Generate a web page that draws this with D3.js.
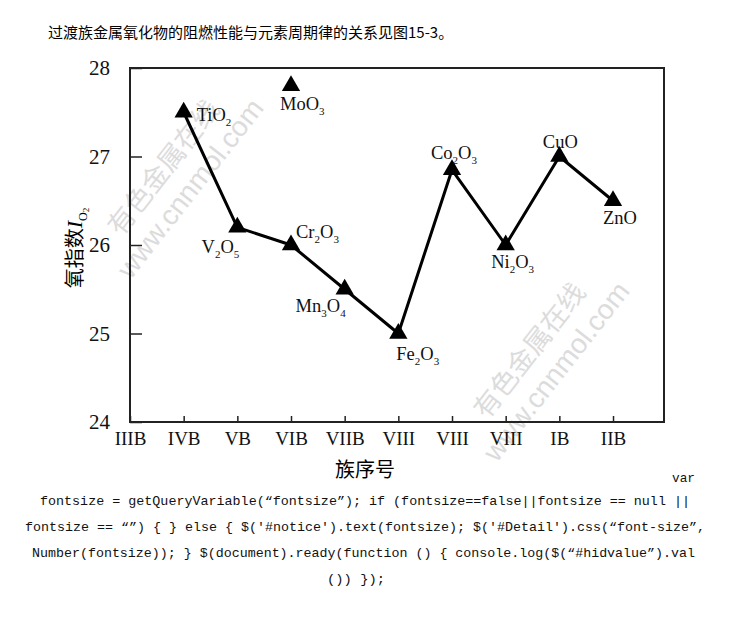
<!DOCTYPE html>
<html>
<head>
<meta charset="utf-8">
<script src="https://cdn.jsdelivr.net/npm/d3@7"></script>
<style>
  body { margin: 0; background: #fff; }
  svg { display: block; }
</style>
</head>
<body>
<svg width="730" height="628"></svg>
<script>
// group labels on the x axis (IIIB..IIB)
var groups = ["IIIB", "IVB", "VB", "VIB", "VIIB", "VIII", "VIII", "VIII", "IB", "IIB"];
var yTicks = [24, 25, 26, 27, 28];

// oxides on the connected line
var oxides = ["TiO2", "V2O5", "Cr2O3", "Mn3O4", "Fe2O3", "Co2O3", "Ni2O3", "CuO", "ZnO"];
var oxideGroup = [1, 2, 3, 4, 5, 6, 7, 8, 9];
var oxygenIndex = [27.5, 26.2, 26.0, 25.5, 25.0, 26.85, 26.0, 27.0, 26.5];

// the lone point
var loneOxide = ["MoO3"];
var loneGroup = [3];
var loneValue = [27.8];

// label placement relative to each point: [dx, dy, anchor]
var labelPos = [
  [13, 9, "start"], [2, 26, "end"], [5, -7, "start"], [1, 23, "end"],
  [-2, 26, "start"], [2, -11, "middle"], [7, 23, "middle"], [1, -9, "middle"], [7, 23, "middle"]
];
var lonePos = [[-11, 24, "start"]];

(function() {
var svg = d3.select("svg");
var serif = "'Liberation Serif', 'Times New Roman', serif";
var cjk = "'Noto Sans CJK SC', sans-serif";

var mLeft = 130, mRight = 664, mTop = 68, mBottom = 422;

var x = d3.scaleLinear().domain([0, 9.95]).range([mLeft, mRight]);
var y = d3.scaleLinear().domain([24, 28]).range([mBottom, mTop]);

// heading line
svg.append("text")
  .attr("x", 48).attr("y", 38)
  .style("font-family", cjk).style("font-size", "15px")
  .text("过渡族金属氧化物的阻燃性能与元素周期律的关系见图15-3。");

// watermarks
function watermark(cx, cy) {
  var g = svg.append("g")
    .attr("transform", "translate(" + cx + "," + cy + ") rotate(-52)")
    .style("fill", "#dcdcdc").style("font-family", cjk);
  g.append("text").attr("x", 0).attr("y", -14).attr("text-anchor", "middle")
    .style("font-size", "27px").text("有色金属在线");
  g.append("text").attr("x", 0).attr("y", 20).attr("text-anchor", "middle")
    .style("font-family", "'Liberation Sans', sans-serif")
    .style("font-size", "28px").text("www.cnnmol.com");
}
watermark(182, 182);
watermark(548, 365);

// frame
svg.append("rect")
  .attr("x", mLeft).attr("y", mTop)
  .attr("width", mRight - mLeft).attr("height", mBottom - mTop)
  .attr("fill", "none").attr("stroke", "#222").attr("stroke-width", 2);

// y axis, ticks inward
var yAxis = d3.axisLeft(y).tickValues(yTicks).tickSize(-12).tickPadding(20).tickFormat(d3.format("d"));
var gy = svg.append("g").attr("transform", "translate(" + mLeft + ",0)").call(yAxis);
gy.select(".domain").remove();
gy.selectAll("line").attr("stroke", "#222").attr("stroke-width", 1.5);
gy.selectAll("text").style("font-family", serif).style("font-size", "21px").attr("fill", "#111");

// x axis, ticks inward
var xAxis = d3.axisBottom(x).tickValues(d3.range(groups.length)).tickSize(-6).tickPadding(10)
  .tickFormat(function(d) { return groups[d]; });
var gx = svg.append("g").attr("transform", "translate(0," + mBottom + ")").call(xAxis);
gx.select(".domain").remove();
gx.selectAll("line").attr("stroke", "#222").attr("stroke-width", 1.5);
gx.selectAll("text").style("font-family", serif).style("font-size", "19px").attr("fill", "#111");

// axis titles
svg.append("text")
  .attr("x", 365).attr("y", 477).attr("text-anchor", "middle")
  .style("font-family", cjk).style("font-size", "20px")
  .text("族序号");

var yt = svg.append("text")
  .attr("transform", "translate(82,248) rotate(-90)")
  .attr("text-anchor", "middle")
  .style("font-family", cjk).style("font-size", "20px");
yt.append("tspan").text("氧指数");
yt.append("tspan").style("font-family", serif).style("font-style", "italic").style("font-size", "22px").text("I");
yt.append("tspan").style("font-family", serif).style("font-size", "12px").attr("dy", 5).text("O");
yt.append("tspan").style("font-family", serif).style("font-size", "9px").attr("dy", 2).text("2");

// connected line
var pts = oxides.map(function(d, i) { return [oxideGroup[i], oxygenIndex[i]]; });
var line = d3.line().x(function(d) { return x(d[0]); }).y(function(d) { return y(d[1]); });
svg.append("path")
  .datum(pts)
  .attr("d", line)
  .attr("fill", "none").attr("stroke", "#000").attr("stroke-width", 3)
  .attr("stroke-linejoin", "round");

var tri = d3.symbol().type(d3.symbolTriangle).size(145);

function drawPoint(name, g, v, pos) {
  var px = x(g), py = y(v);
  svg.append("path").attr("d", tri).attr("transform", "translate(" + px + "," + py + ")").attr("fill", "#000");
  var t = svg.append("text")
    .attr("x", px + pos[0]).attr("y", py + pos[1])
    .attr("text-anchor", pos[2])
    .style("font-family", serif).style("font-size", "18.5px").attr("fill", "#111");
  // digits as subscripts
  var parts = name.match(/[A-Za-z]+|\d+/g);
  var sub = false;
  parts.forEach(function(p) {
    var isNum = /\d/.test(p);
    var s = t.append("tspan").text(p);
    if (isNum) { s.style("font-size", "11px").attr("dy", 5); sub = true; }
    else if (sub) { s.attr("dy", -5); sub = false; }
  });
}

oxides.forEach(function(d, i) { drawPoint(d, oxideGroup[i], oxygenIndex[i], labelPos[i]); });
loneOxide.forEach(function(d, i) { drawPoint(d, loneGroup[i], loneValue[i], lonePos[i]); });

// page script text leaking below the figure
var codeFont = "'Liberation Mono', 'DejaVu Sans Mono', monospace";
var codeLines = [
  ["var", 672, 482, 23],
  ["fontsize = getQueryVariable(\u201Cfontsize\u201D); if (fontsize==false||fontsize == null ||", 40, 505, 650],
  ["fontsize == \u201C\u201D) { } else { $('#notice').text(fontsize); $('#Detail').css(\u201Cfont-size\u201D,", 25, 531, 680],
  ["Number(fontsize)); } $(document).ready(function () { console.log($(\u201C#hidvalue\u201D).val", 32, 557, 663],
  ["()) });", 327, 583, 58]
];
svg.selectAll("text.code")
  .data(codeLines)
  .enter()
  .append("text")
  .attr("class", "code")
  .attr("x", function(d) { return d[1]; })
  .attr("y", function(d) { return d[2]; })
  .attr("textLength", function(d) { return d[3]; })
  .attr("lengthAdjust", "spacingAndGlyphs")
  .style("font-family", codeFont).style("font-size", "13.5px").attr("fill", "#111")
  .text(function(d) { return d[0]; });
})();
</script>
</body>
</html>
